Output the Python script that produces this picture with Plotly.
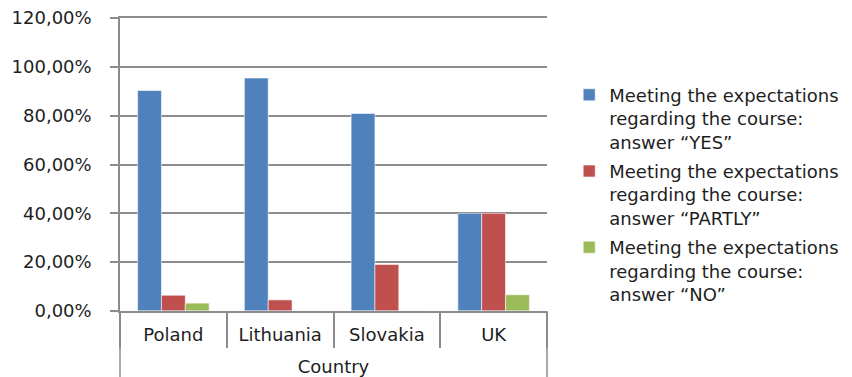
import plotly.graph_objects as go

countries = ["Poland", "Lithuania", "Slovakia", "UK"]
yes_vals = [0.9032, 0.9545, 0.8095, 0.40]
partly_vals = [0.0645, 0.0455, 0.1905, 0.40]
no_vals = [0.0323, 0.0, 0.0, 0.0667]
y_ticks = [0, 0.2, 0.4, 0.6, 0.8, 1.0, 1.2]
series_names = [
    "Meeting the expectations<br>regarding the course:<br>answer \u201cYES\u201d",
    "Meeting the expectations<br>regarding the course:<br>answer \u201cPARTLY\u201d",
    "Meeting the expectations<br>regarding the course:<br>answer \u201cNO\u201d",
]
colors = ["#4F81BD", "#C0504D", "#9BBB59"]

FONT = "DejaVu Sans"
FS = 18
TXT = "#1E1E1E"
GRID = "#8C8C8C"

fig = go.Figure()
for i, (name, vals) in enumerate(zip(series_names, [yes_vals, partly_vals, no_vals])):
    fig.add_trace(go.Bar(
        x=countries, y=vals, name=name, legendgroup=f"g{i}",
        marker=dict(color=colors[i], line=dict(color="rgba(255,255,255,0.55)", width=1)),
    ))

# the page body has an 8px margin, so the figure is drawn 8px smaller
fig.update_layout(
    width=844, height=369,
    margin=dict(l=112, r=305, t=10, b=66, autoexpand=False),
    paper_bgcolor="white", plot_bgcolor="white",
    font=dict(family=FONT, size=FS, color=TXT),
    separators=", ",
    barmode="group", bargap=0.33, bargroupgap=0,
    showlegend=True,
    legend=dict(
        x=1.052, xanchor="left", y=0.80, yanchor="top",
        valign="top", tracegroupgap=3, itemwidth=30,
        font=dict(family=FONT, size=FS, color=TXT),
        bgcolor="rgba(0,0,0,0)",
    ),
    yaxis=dict(
        range=[0, 1.2004], tickmode="array", tickvals=y_ticks, tickformat=".2%",
        showgrid=True, gridcolor=GRID, gridwidth=1.5,
        showline=True, linecolor=GRID, linewidth=1.5,
        ticks="outside", ticklen=8, tickcolor=GRID, tickwidth=1.5,
        ticklabelstandoff=15, zeroline=False, automargin=False,
        ticklabeloverflow="allow",
        tickfont=dict(family=FONT, size=FS, color=TXT),
    ),
    xaxis=dict(
        type="category", categoryarray=countries, range=[-0.5, 3.5],
        showline=True, mirror=True, linecolor=GRID, linewidth=1.5,
        ticks="", showgrid=False, automargin=False,
        ticklabelstandoff=7,
        tickfont=dict(family=FONT, size=FS, color=TXT),
        title=dict(text="Country", standoff=24, font=dict(family=FONT, size=FS, color=TXT)),
    ),
    xaxis2=dict(
        type="category", categoryarray=countries, range=[-0.5, 3.5],
        overlaying="x", side="bottom",
        ticks="outside", tickson="boundaries", ticklen=36,
        tickcolor=GRID, tickwidth=1.5, showticklabels=False, showgrid=False,
        showline=False,
    ),
)
# frame lines at the outer edges of the category area, down to the bottom
for xp in (0, 1):
    fig.add_shape(type="line", xref="paper", yref="paper",
                  x0=xp, x1=xp, y0=0, y1=-66 / 293,
                  line=dict(color=GRID, width=1.5))
# invisible trace to anchor xaxis2
fig.add_trace(go.Bar(x=countries, y=[0, 0, 0, 0], xaxis="x2", showlegend=False,
                     marker=dict(color="rgba(0,0,0,0)"), hoverinfo="skip"))

fig.write_html("out.html")
